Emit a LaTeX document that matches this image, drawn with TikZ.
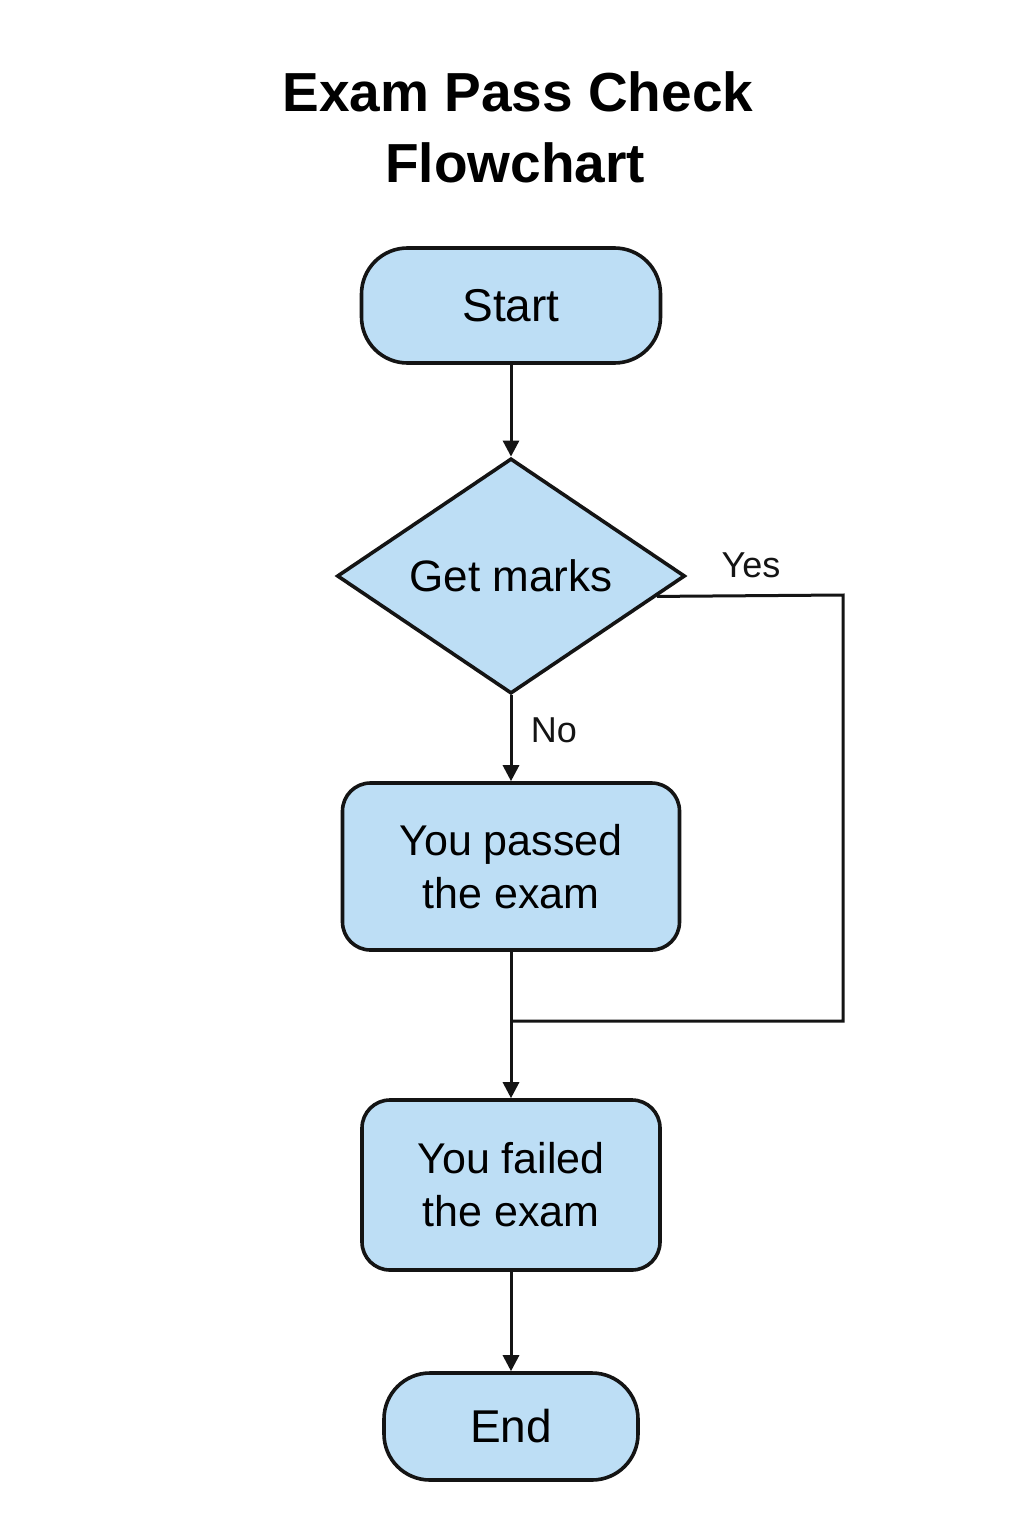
\documentclass[tikz,border=0pt]{standalone}
\usepackage{fontspec}
\setmainfont{Liberation Sans}
\usetikzlibrary{shapes.geometric,arrows.meta,calc}
\definecolor{boxfill}{HTML}{BDDEF5}
\definecolor{ink}{HTML}{141414}
\begin{document}
\begin{tikzpicture}[x=1pt,y=-1pt,
  box/.style={draw=ink,fill=boxfill,line width=3.6pt,align=center,inner sep=0pt,
    font=\fontsize{43}{53}\selectfont},
  term/.style={box,rounded corners=46pt},
  proc/.style={box,rounded corners=28pt},
  decision/.style={box,shape=diamond,minimum width=348pt,minimum height=232pt,
    font=\fontsize{44}{53}\selectfont},
  conn/.style={draw=ink,line width=3pt},
  arr/.style={conn,-{Triangle[length=16pt,width=16pt]}},
  lbl/.style={font=\fontsize{36}{40}\selectfont,text=ink,inner sep=0pt},
  ttl/.style={font=\fontsize{55}{70}\bfseries\selectfont,text=black,align=center,inner sep=0pt}
]
\useasboundingbox (0,0) rectangle (1024,1536);
\fill[white] (0,0) rectangle (1024,1536);

\node[ttl,anchor=base] (t1) at (518,112) {Exam Pass Check};
\node[ttl,anchor=base] (t2) at (515,182) {Flowchart};

\node[term,minimum width=299pt,minimum height=115pt,font=\fontsize{46}{53}\selectfont] (start) at (511,305.5) {Start};
\node[decision] (dec) at (511,576) {Get marks};
\node[proc,minimum width=337pt,minimum height=167pt] (pass) at (511,866.5) {You passed\\the exam};
\node[proc,minimum width=298pt,minimum height=170pt] (fail) at (511,1185) {You failed\\the exam};
\node[term,minimum width=254pt,minimum height=107pt,font=\fontsize{46}{53}\selectfont] (end) at (511,1426.5) {End};

\coordinate (yesstart) at ($(dec.east)!0.171!(dec.south)$);
\coordinate (yescorner) at (843,595);
\coordinate (yesbottom) at (843,1021);
\coordinate (join) at (511,1021);

\draw[arr] (start.south) -- (dec.north);
\draw[arr] (dec.south) -- (pass.north);
\draw[arr] (pass.south) -- (fail.north);
\draw[arr] (fail.south) -- (end.north);
\draw[conn] (yesstart) -- (yescorner) -- (yesbottom) -- (join);

\node[lbl] (yes) at (751,565) {Yes};
\node[lbl] (no) at (554,730) {No};
\end{tikzpicture}
\end{document}
